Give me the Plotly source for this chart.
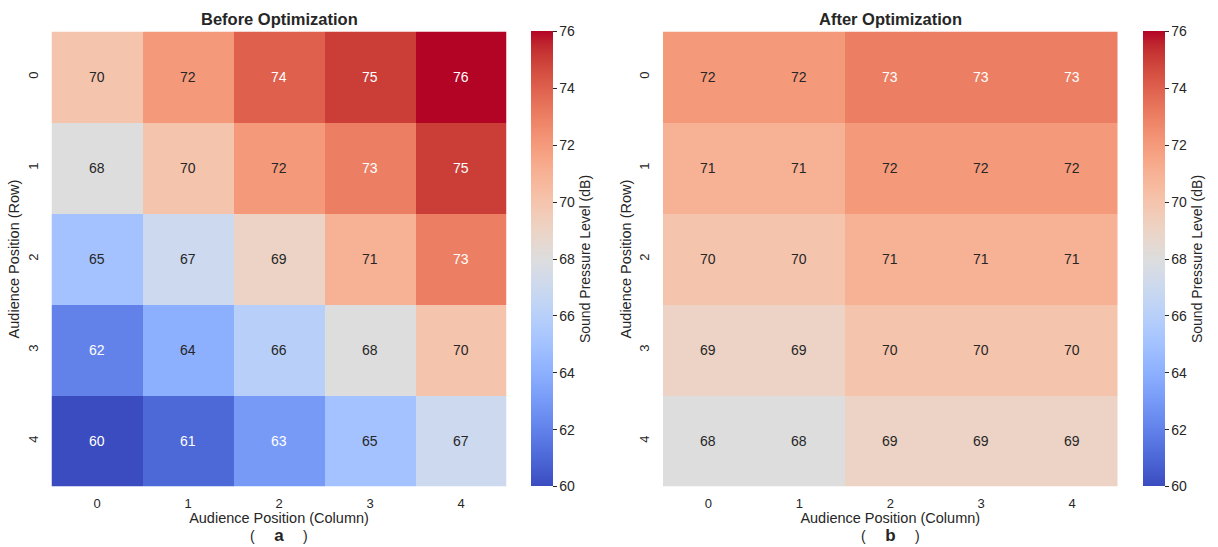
import plotly.graph_objects as go

cols = ["0", "1", "2", "3", "4"]
rows = ["0", "1", "2", "3", "4"]

before = [
    [70, 72, 74, 75, 76],
    [68, 70, 72, 73, 75],
    [65, 67, 69, 71, 73],
    [62, 64, 66, 68, 70],
    [60, 61, 63, 65, 67],
]
after = [
    [72, 72, 73, 73, 73],
    [71, 71, 72, 72, 72],
    [70, 70, 71, 71, 71],
    [69, 69, 70, 70, 70],
    [68, 68, 69, 69, 69],
]
titles = ["Before Optimization", "After Optimization"]
panel_labels = ["a", "b"]
cbar_ticks = [60, 62, 64, 66, 68, 70, 72, 74, 76]
zmin, zmax = 60, 76

cw = [
    (59, 76, 192), (68, 90, 204), (77, 104, 215), (87, 117, 225), (98, 130, 234),
    (108, 142, 241), (119, 154, 247), (130, 165, 251), (141, 176, 254), (152, 185, 255),
    (163, 194, 255), (174, 201, 253), (184, 208, 249), (194, 213, 244), (204, 217, 238),
    (213, 219, 230), (221, 221, 221), (229, 216, 209), (236, 211, 197), (241, 204, 185),
    (245, 196, 173), (247, 187, 160), (247, 177, 148), (247, 166, 135), (244, 154, 123),
    (241, 141, 111), (236, 127, 99), (229, 112, 88), (222, 96, 77), (213, 80, 66),
    (203, 62, 56), (192, 40, 47), (180, 4, 38),
]
colorscale = [[i / (len(cw) - 1), "rgb(%d,%d,%d)" % c] for i, c in enumerate(cw)]

W, H = 1218, 547
FONT = "Liberation Sans, Arial, sans-serif"
TXT = "#262626"


def fx(p):
    return p / W


def fy(p):
    return 1 - p / H


x_domains = [[fx(51.5), fx(506.5)], [fx(663), fx(1117.5)]]
y_domain = [fy(486.5), fy(31.5)]
cbar_x = [fx(531), fx(1143)]

fig = go.Figure()
annotations = []
for k, data in enumerate([before, after]):
    xa = "x" if k == 0 else "x2"
    ya = "y" if k == 0 else "y2"
    fig.add_trace(go.Heatmap(
        z=data, x=cols, y=rows, xaxis=xa, yaxis=ya,
        colorscale=colorscale, zmin=zmin, zmax=zmax,
        xgap=0, ygap=0,
        colorbar=dict(
            x=cbar_x[k], xanchor="left", y=y_domain[0], yanchor="bottom",
            len=y_domain[1] - y_domain[0], lenmode="fraction", thickness=22,
            outlinewidth=0, tickvals=cbar_ticks, ticks="outside", ticklen=4,
            tickcolor=TXT, tickfont=dict(size=14, color=TXT, family=FONT),
            xpad=0, ypad=0,
            title=dict(text="Sound Pressure Level (dB)", side="right",
                       font=dict(size=14, color=TXT, family=FONT)),
        ),
        hoverinfo="skip",
    ))
    for i, r in enumerate(rows):
        for j, c in enumerate(cols):
            v = data[i][j]
            col = "white" if (v <= 63 or v >= 73) else TXT
            annotations.append(dict(x=c, y=r, xref=xa, yref=ya, text=str(v),
                                    showarrow=False, font=dict(size=14, color=col, family=FONT)))
    cx = (x_domains[k][0] + x_domains[k][1]) / 2
    annotations.append(dict(x=cx, y=fy(19), xref="paper", yref="paper", text="<b>%s</b>" % titles[k],
                            xanchor="center", yanchor="middle",
                            showarrow=False, font=dict(size=16.5, color=TXT, family=FONT)))
    annotations.append(dict(x=cx, y=fy(546), xref="paper", yref="paper",
                            xanchor="center", yanchor="bottom", borderpad=0,
                            text="(     <span style='font-size:17px'><b>%s</b></span>     )" % panel_labels[k],
                            showarrow=False, font=dict(size=14, color=TXT, family=FONT)))

axis_common = dict(showgrid=False, zeroline=False, showline=False, ticks="", automargin=False,
                   tickfont=dict(size=13, color=TXT, family=FONT))
title_font = dict(size=14.5, color=TXT, family=FONT)
fig.update_layout(
    width=W, height=H, margin=dict(l=0, r=0, t=0, b=0, autoexpand=False),
    paper_bgcolor="white", plot_bgcolor="white",
    xaxis=dict(domain=x_domains[0], anchor="y", ticklabelstandoff=7,
               title=dict(text="Audience Position (Column)", font=title_font, standoff=3), **axis_common),
    yaxis=dict(domain=y_domain, anchor="x", autorange="reversed", tickangle=-90, ticklabelstandoff=10,
               title=dict(text="Audience Position (Row)", font=title_font, standoff=2), **axis_common),
    xaxis2=dict(domain=x_domains[1], anchor="y2", ticklabelstandoff=7,
                title=dict(text="Audience Position (Column)", font=title_font, standoff=3), **axis_common),
    yaxis2=dict(domain=y_domain, anchor="x2", autorange="reversed", tickangle=-90, ticklabelstandoff=10,
                title=dict(text="Audience Position (Row)", font=title_font, standoff=2), **axis_common),
    annotations=annotations,
)
fig.write_html("out.html", config={"displayModeBar": False},
               post_script="document.body.style.margin='0px';document.body.style.overflow='hidden';")
